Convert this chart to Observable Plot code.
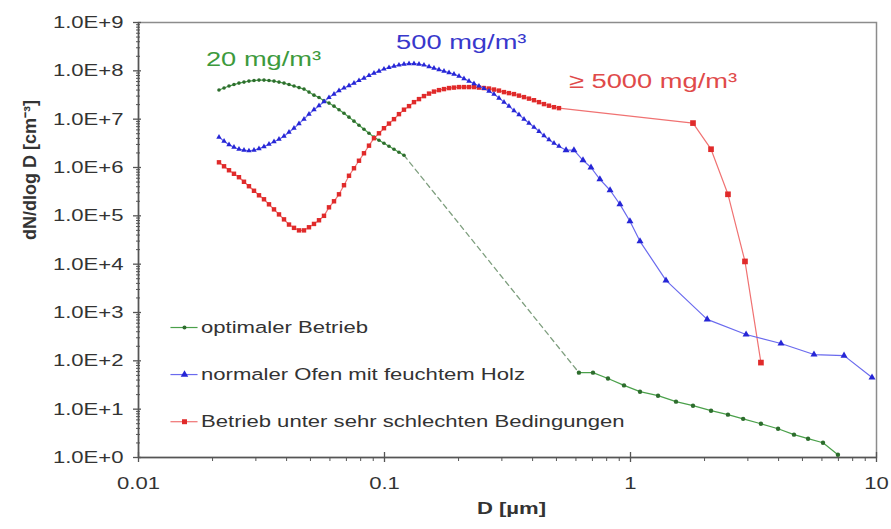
<!DOCTYPE html>
<html><head><meta charset="utf-8">
<script src="https://cdn.jsdelivr.net/npm/d3@7"></script>
<script src="https://cdn.jsdelivr.net/npm/@observablehq/plot@0.6"></script>
<style>body{margin:0;background:#fff}#chart svg{display:block}</style>
</head><body><div id="chart"></div>
<script>
// ---- data ----
const smpsD = [0.02124,0.02227,0.02333,0.02444,0.02561,0.02684,0.02812,0.02948,0.03089,0.03237,
0.03392,0.03555,0.03725,0.03904,0.04091,0.04287,0.04492,0.04707,0.04932,0.05169,
0.05417,0.05676,0.05948,0.06234,0.06532,0.06845,0.07173,0.07516,0.07876,0.08253,
0.08649,0.09063,0.09497,0.09952,0.1043,0.1093,0.1145,0.1200,0.1258,0.1318,
0.1381,0.1447,0.1517,0.1589,0.1665,0.1745,0.1829,0.1916,0.2008,0.2104,
0.2205,0.2311,0.2421,0.2537,0.2659,0.2787,0.2920,0.3060,0.3206,0.3360,
0.3521,0.3690,0.3866,0.4052,0.4246,0.4449,0.4662,0.4887,0.5120];

const greenN = [4.0e7,4.4e7,4.84e7,5.2e7,5.57e7,5.85e7,6.13e7,6.3e7,6.43e7,6.43e7,
6.3e7,6.13e7,5.85e7,5.57e7,5.2e7,4.84e7,4.5e7,4.19e7,3.63e7,3.14e7,
2.8e7,2.4e7,2.15e7,1.86e7,1.57e7,1.33e7,1.10e7,9.1e6,7.5e6,6.2e6,
5.1e6,4.25e6,3.67e6,3.18e6,2.76e6,2.39e6,2.07e6,1.79e6];
const greenTailD = [0.617,0.704,0.810,0.941,1.093,1.294,1.531,1.795,2.125,2.49,2.87,3.39,3.98,4.62,5.27,6.06,6.97];
const greenTailN = [57,57,43,31,23,19,14.3,11.8,9.3,7.7,6.3,5.0,3.94,2.97,2.45,2.02,1.14];

const blueN = [4.25e6,3.5e6,2.97e6,2.63e6,2.39e6,2.28e6,2.22e6,2.28e6,2.45e6,2.70e6,
3.03e6,3.42e6,3.85e6,4.45e6,5.37e6,6.5e6,8.1e6,1.0e7,1.27e7,1.57e7,
1.90e7,2.30e7,2.80e7,3.30e7,3.9e7,4.4e7,4.95e7,5.57e7,6.3e7,7.08e7,
8.0e7,8.98e7,9.88e7,1.09e8,1.17e8,1.25e8,1.32e8,1.38e8,1.41e8,1.41e8,
1.38e8,1.32e8,1.22e8,1.14e8,1.06e8,9.88e7,9.2e7,8.56e7,7.79e7,6.9e7,
6.13e7,5.44e7,4.84e7,4.3e7,3.8e7,3.3e7,2.73e7,2.25e7,1.86e7,1.50e7,
1.24e7,1.0e7,8.3e6,6.8e6,5.6e6,4.55e6,3.76e6,3.18e6,2.76e6];
const blueApsD = [0.547,0.589,0.641,0.691,0.751,0.826,0.906,0.995,1.093,1.394,2.05,2.95,4.09,5.57,7.38,9.59];
const blueApsN = [2.28e6,2.28e6,1.41e6,1.0e6,5.7e5,3.38e5,1.73e5,7.7e4,2.97e4,4.61e3,720,350,228,135,128,45];

const redN = [1.28e6,1.06e6,8.77e5,7.42e5,6.3e5,5.07e5,4.1e5,3.3e5,2.66e5,2.2e5,
1.73e5,1.36e5,1.07e5,8.45e4,6.6e4,5.64e4,5.0e4,5.0e4,5.8e4,6.8e4,
8.1e4,1.0e5,1.5e5,2.0e5,2.79e5,4.3e5,6.75e5,9.65e5,1.38e6,1.97e6,
2.83e6,4.04e6,5.1e6,6.5e6,8.1e6,1.0e7,1.27e7,1.57e7,1.86e7,2.25e7,
2.6e7,3.0e7,3.38e7,3.72e7,3.99e7,4.19e7,4.4e7,4.5e7,4.61e7,4.61e7,
4.61e7,4.61e7,4.5e7,4.4e7,4.3e7,4.1e7,3.9e7,3.63e7,3.46e7,3.3e7,
3.07e7,2.86e7,2.66e7,2.47e7,2.25e7,2.05e7,1.9e7,1.77e7,1.69e7];
const redTailD = [1.795,2.125,2.49,2.92,3.39];
const redTailN = [8.3e6,2.39e6,2.79e5,1.14e4,92];

const seriesNames = ["optimaler Betrieb","normaler Ofen mit feuchtem Holz","Betrieb unter sehr schlechten Bedingungen"];
const annotations = ["20 mg/m³","500 mg/m³","≥ 5000 mg/m³"];
const xTickValues = [0.01,0.1,1,10];
const xTickLabels = ["0.01","0.1","1","10"];
const yTickValues = [1,1e1,1e2,1e3,1e4,1e5,1e6,1e7,1e8,1e9];
const yTickLabels = ["1.0E+0","1.0E+1","1.0E+2","1.0E+3","1.0E+4","1.0E+5","1.0E+6","1.0E+7","1.0E+8","1.0E+9"];
const xTitle = "D [µm]";
const yTitle = "dN/dlog D [cm⁻³]";

// ---- layout / style ----
const W = 891, H = 529, mL = 138, mR = 15, mT = 22, mB = 72;
const plotW = W - mL - mR, plotH = H - mT - mB;
const S = 1.3; // horizontal text stretch of the reference
const lineColors = ["#4aa04a","#6a6aee","#f07272"];
const dotColors = ["#2d6d2d","#2626d6","#e02a2a"];
const textColors = ["#3d9a3d","#3838cc","#e04a4a"];
const symbols = ["circle","triangle","square"];

const tbl = (D, N) => D.map((d, i) => ({d, n: N[i]}));
const green1 = tbl(smpsD.slice(0, greenN.length), greenN);
const green2 = tbl(greenTailD, greenTailN);
const blueS = tbl(smpsD, blueN), blueA = tbl(blueApsD, blueApsN);
const redS = tbl(smpsD, redN), redT = tbl(redTailD, redTailN);
const xTicks = xTickValues.map((v, i) => ({v, label: xTickLabels[i]}));
const yTicks = yTickValues.map((v, i) => ({v, label: yTickLabels[i]}));
const near = (a, b) => Math.abs(a - b) / b < 1e-6;
const xMinor = d3.scaleLog().domain([0.01, 10]).ticks().filter(v => !xTickValues.some(t => near(v, t)));
const yMinor = d3.scaleLog().domain([1, 1e9]).ticks().filter(v => !yTickValues.some(t => near(v, t)));

const marks = [
  Plot.frame({stroke: "#8c8c8c", strokeWidth: 1.5}),
  Plot.ruleX([xTickValues[0]], {stroke: "#555", strokeWidth: 1.5}),
  Plot.ruleY([yTickValues[0]], {stroke: "#555", strokeWidth: 1.5}),
  Plot.ruleX(xMinor, {stroke: "#555", insetTop: plotH - 4, dy: 4}),
  Plot.ruleX(xTickValues, {stroke: "#555", strokeWidth: 1.3, insetTop: plotH - 10, dy: 5}),
  Plot.ruleY(yMinor, {stroke: "#555", insetRight: plotW - 4, dx: -2}),
  Plot.ruleY(yTickValues, {stroke: "#555", strokeWidth: 1.3, insetRight: plotW - 8, dx: -5}),
  Plot.text(yTicks, {y: "v", text: "label", frameAnchor: "left", textAnchor: "end", dx: -15, fill: "#333", fontSize: 17}),
  Plot.text(xTicks, {x: "v", text: "label", frameAnchor: "bottom", dy: 31, fill: "#333", fontSize: 17}),
  Plot.text([xTitle], {text: d => d, frameAnchor: "bottom", dx: 4, dy: 56, fontWeight: "bold", fontSize: 17, fill: "#333"}),
  Plot.text([yTitle], {text: d => d, frameAnchor: "left", dx: -108, rotate: -90, fontWeight: "bold", fontSize: 18, fill: "#333"}),
  // green: optimaler Betrieb
  Plot.line(green1, {x: "d", y: "n", stroke: lineColors[0], strokeWidth: 1.2}),
  Plot.line([green1[green1.length - 1], green2[0]], {x: "d", y: "n", stroke: "#7f9f7f", strokeWidth: 1.3, strokeDasharray: "5,4"}),
  Plot.line(green2, {x: "d", y: "n", stroke: lineColors[0], strokeWidth: 1.2}),
  Plot.dot(green1, {x: "d", y: "n", r: 1.8, fill: dotColors[0]}),
  Plot.dot(green2, {x: "d", y: "n", r: 2.2, fill: dotColors[0]}),
  // red: schlechte Bedingungen
  Plot.line(redS.concat(redT), {x: "d", y: "n", stroke: lineColors[2], strokeWidth: 1.2}),
  Plot.dot(redS, {x: "d", y: "n", symbol: "square", r: 2.5, fill: dotColors[2]}),
  Plot.dot(redT, {x: "d", y: "n", symbol: "square", r: 3.2, fill: dotColors[2]}),
  // blue: feuchtes Holz
  Plot.line(blueS.concat(blueA), {x: "d", y: "n", stroke: lineColors[1], strokeWidth: 1.2}),
  Plot.dot(blueS, {x: "d", y: "n", symbol: "triangle", r: 2.0, fill: dotColors[1]}),
  Plot.dot(blueA, {x: "d", y: "n", symbol: "triangle", r: 2.6, fill: dotColors[1]})
];

// annotations (positions in data units)
const annX = [0.0188, 0.1114, 0.562], annY = [1.76e8, 3.86e8, 6.2e7];
annotations.forEach((t, i) => marks.push(
  Plot.text([t], {x: () => annX[i], y: () => annY[i], text: d => d, textAnchor: "start", fill: textColors[i], fontSize: 21})
));

// legend (positions in data units)
const legY = [489, 52, 5.5];
seriesNames.forEach((name, i) => {
  marks.push(Plot.ruleY([legY[i]], {x1: () => 0.01355, x2: () => 0.01746, stroke: lineColors[i], strokeWidth: 1.2}));
  marks.push(Plot.dot([legY[i]], {x: () => 0.01538, y: d => d, symbol: symbols[i], r: i === 0 ? 2 : 2.8, fill: dotColors[i]}));
  marks.push(Plot.text([name], {x: () => 0.01795, y: () => legY[i], text: d => d, textAnchor: "start", fill: "#333", fontSize: 17}));
});

const svg = Plot.plot({
  width: W, height: H,
  marginLeft: mL, marginRight: mR, marginTop: mT, marginBottom: mB,
  style: {fontFamily: "'Liberation Sans', Arial, sans-serif", fontSize: "17px", background: "#fff", overflow: "visible"},
  x: {type: "log", domain: [0.01, 10], axis: null},
  y: {type: "log", domain: [1, 1e9], axis: null},
  marks
});
document.getElementById("chart").appendChild(svg);

// stretch horizontal texts like the reference (scale about each text's anchor)
svg.querySelectorAll("text").forEach(t => {
  const tr = t.getAttribute("transform") || "";
  if (tr.includes("rotate") || !tr) return;
  t.setAttribute("transform", `${tr} scale(${S},1)`);
});
</script>
</body></html>
